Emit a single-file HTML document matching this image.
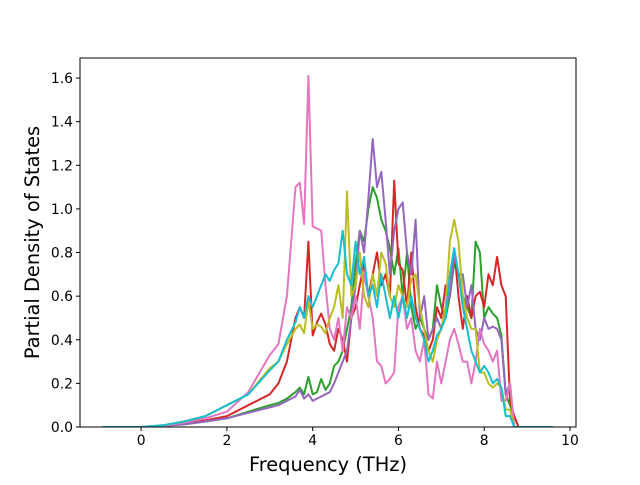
<!DOCTYPE html>
<html><head><meta charset="utf-8"><style>
body{margin:0;background:#fff}
svg text{font-family:"DejaVu Sans","Liberation Sans",sans-serif;fill:#000}
</style></head><body>
<svg id="chart" width="640" height="480" viewBox="0 0 640 480" xmlns="http://www.w3.org/2000/svg">
<rect width="640" height="480" fill="#fff"/>
<g id="series"></g>
<g id="axes"></g>
</svg>
<script>
const freqs=[-0.9,0,0.5,1,1.5,2,2.5,3,3.2,3.4,
3.6,3.7,3.8,3.9,4.0,4.1,4.2,4.3,4.4,4.5,4.6,4.7,4.8,4.9,5.0,
5.1,5.2,5.3,5.4,5.5,5.6,5.7,5.8,5.9,6.0,6.1,6.2,6.3,6.4,6.5,6.6,6.7,6.8,6.9,7.0,
7.1,7.2,7.3,7.4,7.5,7.6,7.7,7.8,7.9,8.0,8.1,8.2,8.3,8.4,8.5,8.6,8.7,8.8,9.6];
const greenVals=[0,0,0.005,0.012,0.025,0.04,0.07,0.1,0.11,0.13,
0.16,0.18,0.15,0.23,0.15,0.16,0.22,0.17,0.2,0.28,0.3,0.35,0.45,0.55,0.75,
0.9,0.85,1.0,1.1,1.05,0.95,0.9,0.82,0.7,0.82,0.6,0.8,0.55,0.45,0.5,0.45,0.4,0.45,0.65,0.55,
0.5,0.6,0.75,0.7,0.6,0.55,0.5,0.85,0.8,0.5,0.55,0.52,0.5,0.42,0.15,0.1,0.05,0,0];
const redVals=[0,0,0.005,0.015,0.03,0.05,0.1,0.15,0.2,0.3,
0.5,0.55,0.5,0.85,0.42,0.48,0.52,0.47,0.38,0.35,0.45,0.4,0.3,0.5,0.55,
0.65,0.75,0.6,0.7,0.8,0.65,0.7,0.6,1.13,0.75,0.72,0.55,0.8,0.55,0.45,0.42,0.35,0.4,0.55,0.5,
0.65,0.6,0.82,0.6,0.45,0.6,0.5,0.6,0.62,0.55,0.7,0.65,0.78,0.65,0.6,0.12,0.05,0,0];
const purpleVals=[0,0,0.005,0.012,0.025,0.04,0.065,0.09,0.1,0.12,
0.14,0.17,0.13,0.15,0.12,0.13,0.14,0.15,0.16,0.2,0.25,0.3,0.35,0.5,0.65,
0.9,0.8,1.05,1.32,1.1,1.17,0.95,0.7,0.9,1.0,1.03,0.8,0.7,0.95,0.5,0.6,0.4,0.45,0.5,0.45,
0.55,0.6,0.8,0.7,0.7,0.55,0.65,0.45,0.4,0.5,0.45,0.46,0.45,0.4,0.15,0.2,0,0,0];
const pinkVals=[0,0,0.005,0.02,0.04,0.07,0.16,0.33,0.38,0.6,
1.1,1.12,0.93,1.61,0.92,0.91,0.9,0.65,0.45,0.4,0.5,0.35,0.55,0.5,0.6,
0.45,0.7,0.6,0.5,0.3,0.28,0.2,0.22,0.25,0.55,0.6,0.45,0.5,0.35,0.3,0.4,0.15,0.13,0.3,0.2,
0.3,0.4,0.45,0.38,0.3,0.3,0.2,0.3,0.45,0.38,0.35,0.3,0.35,0.12,0.12,0.2,0,0,0];
const oliveVals=[0,0,0.008,0.025,0.05,0.1,0.15,0.27,0.3,0.38,
0.45,0.47,0.43,0.58,0.45,0.47,0.46,0.43,0.5,0.55,0.65,0.5,1.08,0.6,0.65,
0.8,0.6,0.55,0.7,0.6,0.8,0.75,0.6,0.55,0.65,0.6,0.55,0.68,0.7,0.55,0.45,0.35,0.3,0.4,0.45,
0.55,0.85,0.95,0.85,0.6,0.5,0.45,0.45,0.25,0.25,0.2,0.18,0.2,0.18,0.08,0.08,0,0,0];
const cyanVals=[0,0,0.008,0.025,0.05,0.1,0.15,0.26,0.3,0.4,
0.48,0.55,0.5,0.6,0.55,0.6,0.65,0.7,0.67,0.72,0.75,0.9,0.7,0.65,0.85,
0.7,0.78,0.6,0.65,0.55,0.7,0.6,0.5,0.6,0.5,0.6,0.5,0.6,0.5,0.45,0.4,0.3,0.35,0.42,0.45,
0.5,0.7,0.82,0.7,0.55,0.45,0.35,0.3,0.25,0.28,0.25,0.2,0.22,0.18,0.05,0.05,0,0,0];
const xTicks=[0,2,4,6,8,10];
const yTicks=[0,0.2,0.4,0.6,0.8,1.0,1.2,1.4,1.6];
const yTickLabels=["0.0","0.2","0.4","0.6","0.8","1.0","1.2","1.4","1.6"];

const L=80,R=576,T=58,B=427;
const xMin=-1.425,xMax=10.14,yMin=0,yMax=1.692;
const xs=v=>L+(v-xMin)/(xMax-xMin)*(R-L);
const ys=v=>B-(v-yMin)/(yMax-yMin)*(B-T);
const NS='http://www.w3.org/2000/svg';
function mk(tag,attrs,parent){const e=document.createElementNS(NS,tag);for(const k in attrs)e.setAttribute(k,attrs[k]);parent.appendChild(e);return e;}
const sg=document.getElementById('series');
const clip=mk('clipPath',{id:'pc'},document.getElementById('chart'));
mk('rect',{x:L,y:T,width:R-L,height:B-T},clip);
sg.setAttribute('clip-path','url(#pc)');
const series=[['green',greenVals,'#2ca02c'],['red',redVals,'#d62728'],['purple',purpleVals,'#9467bd'],['pink',pinkVals,'#e377c2'],['olive',oliveVals,'#bcbd22'],['cyan',cyanVals,'#17becf']];
series.forEach(([n,vals,c])=>{
 const d=vals.map((v,i)=>(i?'L':'M')+xs(freqs[i]).toFixed(1)+','+ys(v).toFixed(1)).join('');
 const p=mk('path',{d:d,fill:'none',stroke:c,'stroke-width':2,'stroke-linejoin':'round'},sg);
 
 
});
const ax=document.getElementById('axes');
const fr=mk('rect',{x:L,y:T,width:R-L,height:B-T,fill:'none',stroke:'#000','stroke-width':1},ax);


xTicks.forEach(t=>{const x=xs(t);
 mk('line',{x1:x,x2:x,y1:B,y2:B+4,stroke:'#000'},ax);
 const tx=mk('text',{x:x,y:B+18,'text-anchor':'middle','font-size':10*1.39/1.39+'','style':'font-size:13.9px'},ax);
 tx.textContent=t;
 
 
});
yTicks.forEach((t,i)=>{const y=ys(t);
 mk('line',{x1:L-4,x2:L,y1:y,y2:y,stroke:'#000'},ax);
 const tx=mk('text',{x:L-7,y:y+5,'text-anchor':'end','style':'font-size:13.9px'},ax);
 tx.textContent=yTickLabels[i];
 
 
});
const xl=mk('text',{x:(L+R)/2,y:471,'text-anchor':'middle','style':'font-size:19.4px'},ax);
xl.textContent='Frequency (THz)';


const yl=mk('text',{x:0,y:0,'text-anchor':'middle','transform':'translate(39,'+((T+B)/2)+') rotate(-90)','style':'font-size:19.4px'},ax);
yl.textContent='Partial Density of States';


</script>
</body></html>
